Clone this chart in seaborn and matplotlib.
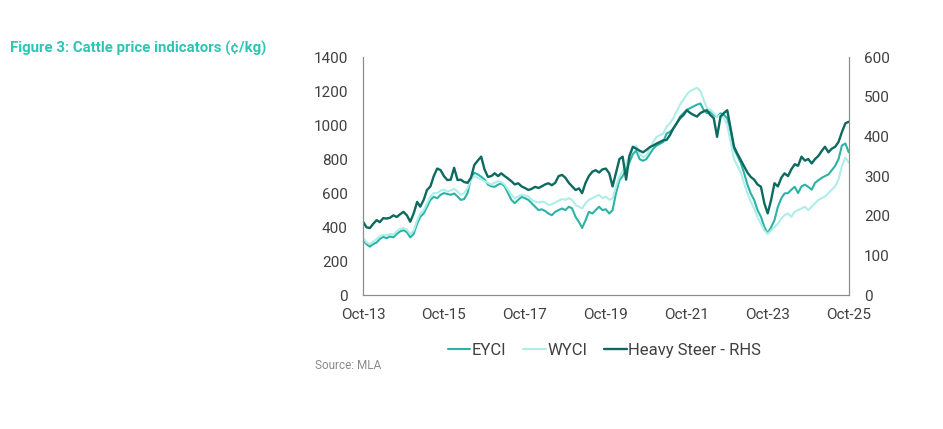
import pandas as pd
import seaborn as sns
import matplotlib.pyplot as plt

# Monthly readings, Oct-13 to Oct-25 (c/kg)
eyci = [323, 300, 285,
        300, 310, 330, 343, 335, 345, 340, 360, 375, 382, 370, 340,
        360, 420, 460, 480, 520, 560, 578, 570, 590, 600, 595, 590,
        598, 580, 560, 565, 600, 690, 720, 710, 696, 680, 650, 640,
        637, 650, 657, 640, 600, 560, 541, 560, 578, 570, 560, 540,
        520, 500, 505, 495, 480, 470, 490, 500, 510, 500, 520, 510,
        460, 430, 395, 440, 490, 480, 500, 520, 500, 505, 480, 500,
        600, 676, 700, 740, 780, 830, 850, 800, 790, 800, 830, 860,
        880, 890, 900, 950, 960, 980, 1010, 1050, 1070, 1090, 1100, 1110,
        1120, 1127, 1090, 1070, 1080, 1060, 1050, 1069, 1060, 1040, 960, 860,
        820, 775, 720, 650, 598, 560, 500, 461, 400, 363, 400, 441,
        520, 570, 598, 600, 620, 637, 600, 640, 650, 637, 620, 660,
        676, 690, 700, 710, 735, 760, 800, 880, 892, 840]

wyci = [335, 310, 300,
        315, 330, 345, 355, 350, 360, 355, 375, 390, 395, 385, 360,
        380, 440, 480, 500, 540, 580, 600, 600, 615, 620, 610, 615,
        625, 610, 590, 600, 630, 680, 700, 690, 680, 670, 660, 650,
        660, 670, 665, 650, 620, 590, 570, 580, 590, 585, 580, 560,
        550, 545, 550, 545, 530, 535, 545, 555, 565, 560, 570, 560,
        530, 520, 510, 540, 560, 570, 580, 590, 570, 580, 560, 570,
        640, 700, 730, 770, 820, 860, 880, 830, 810, 820, 860, 900,
        930, 940, 950, 990, 1010, 1040, 1080, 1120, 1150, 1180, 1200, 1210,
        1220, 1200, 1150, 1100, 1090, 1070, 1050, 1060, 1040, 1000, 900, 800,
        760, 720, 660, 600, 550, 510, 460, 420, 380, 360, 380, 400,
        420, 450, 470, 480, 460, 490, 500, 510, 520, 500, 520, 540,
        560, 570, 580, 600, 620, 640, 680, 760, 810, 780]

heavy_steer = [185, 171, 169,
               180, 189, 184, 194, 193, 195, 201, 197, 204, 210, 201, 185,
               206, 235, 223, 240, 265, 274, 300, 319, 315, 300, 290, 291,
               321, 290, 291, 285, 283, 296, 328, 339, 349, 317, 298, 300,
               307, 300, 307, 300, 294, 287, 279, 282, 274, 270, 265, 268,
               273, 270, 274, 279, 282, 277, 283, 300, 303, 296, 283, 274,
               265, 269, 257, 283, 300, 311, 315, 309, 317, 319, 307, 274,
               309, 343, 349, 291, 351, 374, 369, 364, 360, 366, 373, 377,
               382, 386, 390, 391, 403, 420, 433, 446, 454, 466, 459, 454,
               450, 459, 463, 466, 454, 446, 399, 450, 459, 466, 420, 374,
               356, 340, 326, 309, 298, 291, 279, 273, 231, 206, 240, 282,
               274, 296, 307, 300, 317, 330, 326, 349, 339, 343, 332, 343,
               351, 364, 374, 360, 369, 374, 386, 411, 433, 437]

tick_labels = ['Oct-13', 'Oct-15', 'Oct-17', 'Oct-19', 'Oct-21', 'Oct-23', 'Oct-25']

c_eyci = '#2bb3a6'
c_wyci = '#aeeee9'
c_steer = '#0c6a5e'

sns.set_style('white')
plt.rcParams['font.family'] = ['Roboto', 'DejaVu Sans']

df = pd.DataFrame({
    'date': pd.date_range('2013-10-01', periods=len(eyci), freq='MS'),
    'EYCI': eyci,
    'WYCI': wyci,
    'Heavy Steer - RHS': heavy_steer,
})

fig = plt.figure(figsize=(9.43, 4.29), dpi=100)
ax = fig.add_axes([0.385, 0.312, 0.515, 0.555])
ax2 = ax.twinx()

sns.lineplot(data=df, x='date', y='EYCI', ax=ax, color=c_eyci, lw=1.5, label='EYCI', legend=False)
sns.lineplot(data=df, x='date', y='WYCI', ax=ax, color=c_wyci, lw=1.5, label='WYCI', legend=False)
sns.lineplot(data=df, x='date', y='Heavy Steer - RHS', ax=ax2, color=c_steer, lw=1.7,
             label='Heavy Steer - RHS', legend=False)

ax.set_ylim(0, 1400)
ax2.set_ylim(0, 600)
ax.set_yticks(range(0, 1401, 200))
ax2.set_yticks(range(0, 601, 100))

xt = pd.to_datetime(['2013-10-01', '2015-10-01', '2017-10-01', '2019-10-01',
                     '2021-10-01', '2023-10-01', '2025-10-01'])
ax.set_xlim(xt[0], xt[-1])
ax.set_xticks(xt)
ax.set_xticklabels(tick_labels)
ax.set_xlabel('')
ax.set_ylabel('')
ax2.set_ylabel('')

for a in (ax, ax2):
    a.tick_params(length=0, labelsize=11, colors='#404040', pad=11)
    a.spines['top'].set_visible(False)
    for s in ('left', 'right', 'bottom'):
        a.spines[s].set_color('#8c8c8c')
        a.spines[s].set_linewidth(0.8)
ax.tick_params(axis='x', pad=9)

h1, l1 = ax.get_legend_handles_labels()
h2, l2 = ax2.get_legend_handles_labels()
fig.legend(h1 + h2, l1 + l2, loc='center', bbox_to_anchor=(0.641, 0.184), ncol=3,
           frameon=False, fontsize=12, handlelength=1.35, handletextpad=0.1,
           columnspacing=1.0, labelcolor='#404040')

fig.text(0.011, 0.886, 'Figure 3: Cattle price indicators (¢/kg)', color='#2ec4b6',
         fontsize=10.8, fontweight='bold', va='center')
fig.text(0.334, 0.147, 'Source: MLA', color='#8a8a8a', fontsize=8.5, va='center')

fig.savefig('out.png', dpi=100)
